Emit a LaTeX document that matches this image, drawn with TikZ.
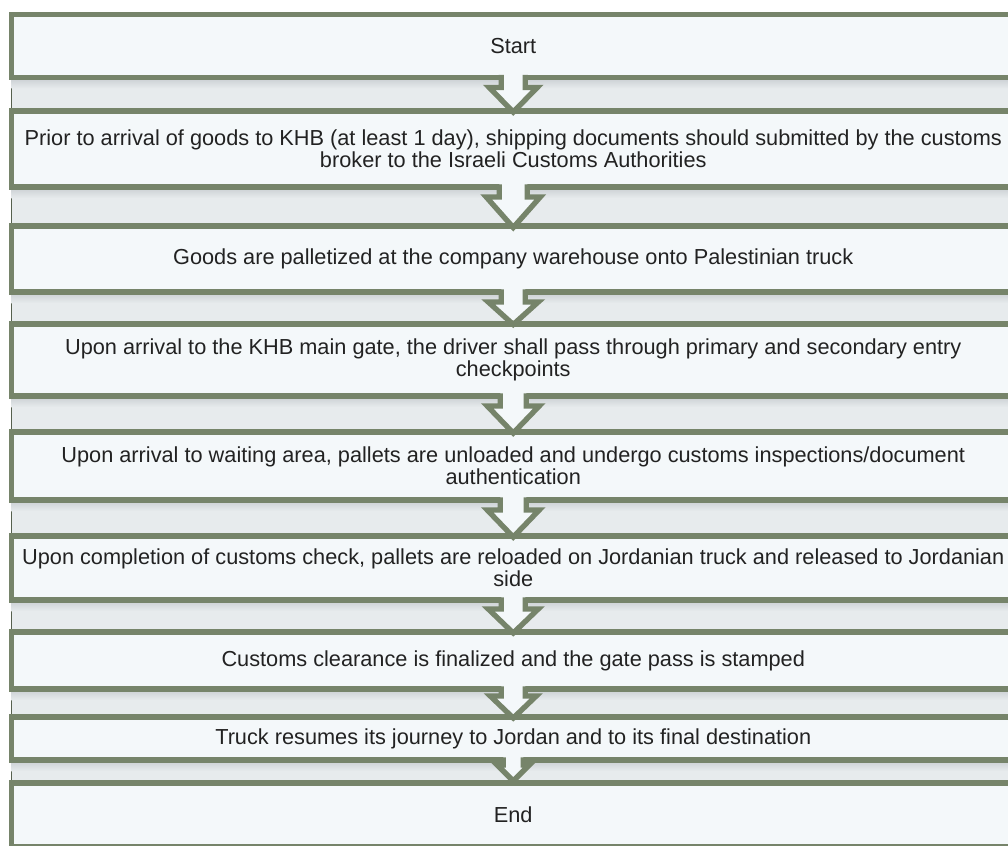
\documentclass[tikz,border=0pt]{standalone}
\usepackage{fontspec}
\setmainfont{Liberation Sans}
\usetikzlibrary{calc}
\definecolor{rim}{HTML}{76846A}
\definecolor{rimdark}{HTML}{56604E}
\definecolor{panel}{HTML}{F4F8FA}
\definecolor{gapgray}{HTML}{E7EBED}
\definecolor{gapshade}{HTML}{C6CBCF}
\definecolor{ink}{HTML}{222222}

% one stage of the flow: name, top, bottom (px, y grows downward), text
\newcommand\stagebox[4]{%
  \shade[top color=gapshade, bottom color=gapgray]
    (11.5,#3) rectangle (1008,{#3+12});
  \node[stepbox, minimum height={(#3-#2)*0.75pt}] (#1) at (513.25,{(#2+#3)/2+1}) {#4};}

% block arrow from the bottom of one stage into the next:
% from, to, stem half width, head half width, shoulder drop, tip offset
\newcommand\chevron[6]{%
  \fill[panel]
    ($(#1.south)+(-#3,-4)$) -- ($(#1.south)+(-#3,#5)$) -- ($(#1.south)+(-#4,#5)$)
    -- ($(#2.north)+(0,#6)$)
    -- ($(#1.south)+(#4,#5)$) -- ($(#1.south)+(#3,#5)$) -- ($(#1.south)+(#3,-4)$) -- cycle;
  \draw[chevronrim]
    ($(#1.south)+(-#3,-2.7)$) -- ($(#1.south)+(-#3,#5)$) -- ($(#1.south)+(-#4,#5)$)
    -- ($(#2.north)+(0,#6)$)
    -- ($(#1.south)+(#4,#5)$) -- ($(#1.south)+(#3,#5)$) -- ($(#1.south)+(#3,-2.7)$);}

\begin{document}
\begin{tikzpicture}[x=0.75pt,y=-0.75pt,
  stepbox/.style={draw=rim, fill=panel, line width=4pt, outer sep=0pt,
    inner sep=0pt, minimum width=752.6pt, align=center, text=ink,
    font=\fontsize{16.3}{16.8}\selectfont},
  chevronrim/.style={draw=rim, line width=4pt, line join=miter}]
\useasboundingbox (0,0) rectangle (1008,846);
\clip (0,0) rectangle (1008,846);

% grey channel behind the stages
\fill[gapgray] (11.5,13.5) rectangle (1008,846);
\draw[rimdark, line width=1.2pt] (11.5,13.5) -- (11.5,846);

\stagebox{b1}{13.5}{76.5}{Start}
\stagebox{b2}{110}{186}{Prior to arrival of goods to KHB (at least 1 day), shipping documents should submitted by the customs\\broker to the Israeli Customs Authorities}
\stagebox{b3}{225}{291}{Goods are palletized at the company warehouse onto Palestinian truck}
\stagebox{b4}{323}{395}{Upon arrival to the KHB main gate, the driver shall pass through primary and secondary entry\\checkpoints}
\stagebox{b5}{431}{499}{Upon arrival to waiting area, pallets are unloaded and undergo customs inspections/document\\authentication}
\stagebox{b6}{535}{599}{Upon completion of customs check, pallets are reloaded on Jordanian truck and released to Jordanian\\side}
\stagebox{b7}{631}{688}{Customs clearance is finalized and the gate pass is stamped}
\stagebox{b8}{716}{759}{Truck resumes its journey to Jordan and to its final destination}
\stagebox{b9}{782}{846}{End}

\chevron{b1}{b2}{12}{24}{10}{1}
\chevron{b2}{b3}{14}{27}{10}{1.5}
\chevron{b3}{b4}{12}{25}{10}{0.5}
\chevron{b4}{b5}{13}{26}{10}{1}
\chevron{b5}{b6}{13}{26}{10}{1}
\chevron{b6}{b7}{12}{25}{9}{1}
\chevron{b7}{b8}{12}{23}{7}{1}
\chevron{b8}{b9}{10}{16}{5}{-2}
\end{tikzpicture}
\end{document}
